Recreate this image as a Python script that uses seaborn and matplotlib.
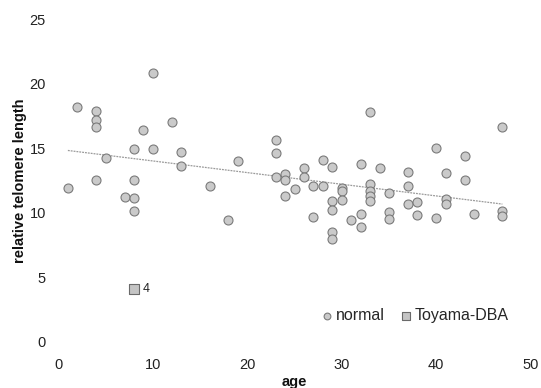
import matplotlib
matplotlib.use("Agg")
import matplotlib.pyplot as plt
import seaborn as sns
import numpy as np
import pandas as pd

# data
normal_age = [1, 2, 4, 4, 4, 4, 5, 7, 8, 8, 8, 8, 9, 10, 10, 12, 13, 13, 16, 18, 19,
              23, 23, 23, 24, 24, 24, 25, 26, 26, 27, 27, 28, 28, 29, 29, 29, 29, 29,
              30, 30, 30, 31, 32, 32, 32, 33, 33, 33, 33, 33, 34, 35, 35, 35,
              37, 37, 37, 38, 38, 40, 40, 41, 41, 41, 43, 43, 44, 47, 47, 47]
normal_tl = [11.9, 18.2, 17.9, 17.2, 16.6, 12.5, 14.2, 11.2, 14.9, 12.5, 11.1, 10.15,
             16.4, 20.8, 14.9, 17.0, 14.7, 13.6, 12.1, 9.45, 14.0,
             15.6, 14.65, 12.8, 13.0, 12.5, 11.3, 11.85, 13.5, 12.8, 12.1, 9.65,
             14.1, 12.05, 13.55, 10.9, 10.2, 8.5, 8.0,
             11.95, 11.7, 11.0, 9.4, 13.8, 9.9, 8.9, 17.8, 12.2, 11.7, 11.3, 10.9,
             13.45, 11.5, 10.05, 9.55,
             13.15, 12.1, 10.7, 10.8, 9.8, 15.0, 9.6, 13.1, 11.05, 10.65,
             14.4, 12.55, 9.88, 16.6, 10.15, 9.75]
dba_age = [8]
dba_tl = [4.1]
dba_labels = ["4"]

x_ticks = [0, 10, 20, 30, 40, 50]
y_ticks = [0, 5, 10, 15, 20, 25]

df_n = pd.DataFrame({"age": normal_age, "tl": normal_tl})
df_d = pd.DataFrame({"age": dba_age, "tl": dba_tl})

sns.set_theme(style="white")
plt.rcParams["font.family"] = ["Liberation Sans", "DejaVu Sans"]

fig = plt.figure(figsize=(5.41, 3.88), dpi=100)
ax = fig.add_axes([0.108, 0.119, 0.873, 0.832])

sns.regplot(data=df_n, x="age", y="tl", scatter=False, ci=None, ax=ax,
            line_kws=dict(color="#9a9a9a", lw=0.9, ls=(0, (1.5, 0.8))))
sns.scatterplot(data=df_n, x="age", y="tl", ax=ax, marker="o", s=42,
                color="#cacaca", edgecolor="#7a7a7a", linewidth=0.8,
                label="normal", zorder=3)
sns.scatterplot(data=df_d, x="age", y="tl", ax=ax, marker="s", s=62,
                color="#c4c4c4", edgecolor="#6a6a6a", linewidth=0.8,
                label="Toyama-DBA", zorder=3)
for a, t, lab in zip(dba_age, dba_tl, dba_labels):
    ax.annotate(lab, (a, t), xytext=(6, 0), textcoords="offset points",
                va="center", ha="left", fontsize=9, color="#222222")

ax.set_xlim(0, 50)
ax.set_ylim(0, 25)
ax.set_xticks(x_ticks)
ax.set_yticks(y_ticks)
ax.tick_params(axis="both", length=0, labelsize=10.5, colors="#222222")
ax.tick_params(axis="x", pad=12)
ax.tick_params(axis="y", pad=9)
for s in ax.spines.values():
    s.set_visible(False)
ax.grid(False)

ax.set_xlabel("age", fontsize=10.5, fontweight="bold", color="#111111", labelpad=2)
ax.set_ylabel("relative telomere length", fontsize=10.5, fontweight="bold",
              color="#111111", labelpad=2)

leg = ax.legend(ncol=2, frameon=False, loc="center",
                bbox_to_anchor=(0.765, 0.186), bbox_transform=fig.transFigure,
                handletextpad=0.05, columnspacing=0.8, fontsize=11.5,
                markerscale=0.75, handlelength=1.0, borderaxespad=0)

fig.savefig("out.png", dpi=100)
